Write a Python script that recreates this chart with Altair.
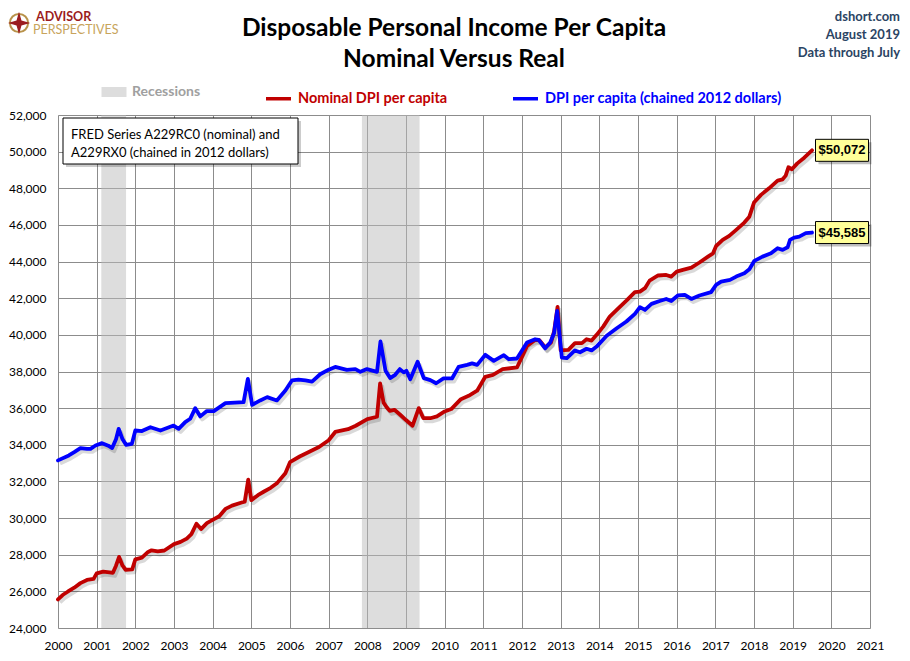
import altair as alt
import pandas as pd

# ---------------- data ----------------
nominal_t = [2000.00, 2000.12, 2000.25, 2000.42, 2000.58, 2000.75, 2000.92, 2001.00, 2001.17, 2001.33,
             2001.42, 2001.50, 2001.58, 2001.67, 2001.75, 2001.92, 2002.00, 2002.17, 2002.33, 2002.42,
             2002.58, 2002.75, 2003.00, 2003.17, 2003.33, 2003.45, 2003.58, 2003.70, 2003.85, 2004.00,
             2004.17, 2004.33, 2004.50, 2004.75, 2004.83, 2004.92, 2005.00, 2005.17, 2005.33, 2005.50,
             2005.67, 2005.88, 2006.00, 2006.25, 2006.50, 2006.75, 2007.00, 2007.17, 2007.50, 2007.70,
             2008.00, 2008.25, 2008.33, 2008.42, 2008.50, 2008.58, 2008.70, 2008.85, 2009.00, 2009.17,
             2009.33, 2009.45, 2009.63, 2009.80, 2010.00, 2010.17, 2010.42, 2010.62, 2010.84, 2011.05,
             2011.25, 2011.50, 2011.87, 2012.00, 2012.13, 2012.33, 2012.45, 2012.60, 2012.75, 2012.83,
             2012.92, 2013.00, 2013.20, 2013.37, 2013.55, 2013.67, 2013.80, 2013.93, 2014.10, 2014.27,
             2014.49, 2014.70, 2014.92, 2015.05, 2015.18, 2015.30, 2015.52, 2015.73, 2015.86, 2016.00,
             2016.16, 2016.38, 2016.59, 2016.81, 2016.94, 2017.02, 2017.19, 2017.36, 2017.54, 2017.75,
             2017.88, 2018.00, 2018.18, 2018.39, 2018.61, 2018.74, 2018.82, 2018.89, 2018.98, 2019.12,
             2019.30, 2019.50]
nominal_v = [25560, 25800, 25980, 26200, 26450, 26620, 26680, 26980, 27080, 27040,
             27010, 27400, 27880, 27400, 27180, 27200, 27750, 27840, 28150, 28240,
             28180, 28230, 28580, 28700, 28880, 29120, 29690, 29400, 29720, 29900,
             30100, 30500, 30680, 30850, 30900, 32100, 30980, 31250, 31450, 31650,
             31920, 32450, 33050, 33360, 33620, 33880, 34250, 34700, 34850, 35040,
             35400, 35530, 37350, 36300, 36050, 35850, 35910, 35640, 35350, 35040,
             36000, 35450, 35450, 35550, 35820, 35950, 36490, 36670, 36950, 37710,
             37820, 38130, 38220, 38800, 39400, 39710, 39710, 39310, 39580, 40200,
             41530, 39150, 39180, 39550, 39550, 39760, 39690, 40000, 40450, 41000,
             41450, 41870, 42330, 42360, 42550, 42960, 43240, 43270, 43180, 43450,
             43550, 43670, 43950, 44270, 44450, 44850, 45180, 45400, 45730, 46130,
             46450, 47220, 47640, 48000, 48420, 48490, 48690, 49150, 49040, 49360,
             49670, 50072]

real_t = [2000.00, 2000.28, 2000.42, 2000.58, 2000.75, 2000.84, 2000.97, 2001.14, 2001.30, 2001.40,
          2001.50, 2001.57, 2001.67, 2001.76, 2001.91, 2002.00, 2002.17, 2002.39, 2002.65, 2002.99,
          2003.12, 2003.29, 2003.42, 2003.55, 2003.68, 2003.85, 2004.03, 2004.33, 2004.46, 2004.80,
          2004.91, 2005.02, 2005.23, 2005.41, 2005.66, 2005.88, 2006.05, 2006.22, 2006.40, 2006.57,
          2006.78, 2007.00, 2007.17, 2007.47, 2007.69, 2007.82, 2007.99, 2008.25, 2008.34, 2008.47,
          2008.59, 2008.72, 2008.84, 2008.94, 2009.01, 2009.11, 2009.30, 2009.46, 2009.63, 2009.78,
          2009.97, 2010.19, 2010.36, 2010.58, 2010.71, 2010.84, 2011.05, 2011.27, 2011.53, 2011.66,
          2011.87, 2012.13, 2012.34, 2012.43, 2012.60, 2012.73, 2012.83, 2012.91, 2013.03, 2013.16,
          2013.37, 2013.50, 2013.67, 2013.80, 2013.93, 2014.19, 2014.45, 2014.70, 2014.92, 2015.05,
          2015.18, 2015.35, 2015.56, 2015.73, 2015.86, 2016.03, 2016.21, 2016.38, 2016.59, 2016.89,
          2017.02, 2017.15, 2017.38, 2017.54, 2017.75, 2017.88, 2018.01, 2018.22, 2018.44, 2018.61,
          2018.74, 2018.87, 2018.93, 2019.04, 2019.17, 2019.34, 2019.50]
real_v = [33150, 33420, 33600, 33820, 33780, 33780, 33960, 34090, 33950, 33820,
          34300, 34870, 34300, 34000, 34050, 34780, 34750, 34960, 34780, 35050,
          34870, 35240, 35420, 36000, 35550, 35840, 35840, 36270, 36290, 36330,
          37600, 36180, 36420, 36600, 36420, 36960, 37510, 37560, 37510, 37450,
          37850, 38100, 38250, 38090, 38130, 37980, 38130, 37980, 39640, 38040,
          37640, 37820, 38130, 37950, 38040, 37580, 38530, 37640, 37530, 37360,
          37620, 37620, 38250, 38360, 38440, 38360, 38910, 38580, 38890, 38670,
          38710, 39580, 39760, 39730, 39270, 39580, 40100, 41310, 38760, 38730,
          39150, 39050, 39240, 39150, 39360, 39950, 40360, 40730, 41150, 41510,
          41360, 41690, 41850, 41960, 41850, 42150, 42180, 41960, 42150, 42330,
          42730, 42910, 43000, 43180, 43360, 43580, 44040, 44270, 44450, 44730,
          44640, 44780, 45180, 45310, 45360, 45550, 45585]

recession_start = [2001.12, 2007.86]
recession_end = [2001.76, 2009.35]
recession_label = ["Recessions", "Recessions"]

year_ticks = list(range(2000, 2022))
value_ticks = list(range(24000, 52001, 2000))

series_names = ["Nominal DPI per capita", "DPI per capita (chained 2012 dollars)"]
series_colors = ["#C00000", "#0000FF"]

title_lines = ["Disposable Personal Income Per Capita", "Nominal Versus Real"]
source_lines = ["dshort.com", "August 2019", "Data through July"]
note_lines = ["FRED Series A229RC0 (nominal) and", "A229RX0 (chained in 2012 dollars)"]
logo_top = "ADVISOR"
logo_bottom = "PERSPECTIVES"

# ---------------- tables ----------------
lines_df = pd.DataFrame({
    "t": nominal_t + real_t,
    "v": nominal_v + real_v,
    "series": [series_names[0]] * len(nominal_t) + [series_names[1]] * len(real_t),
})
last_df = pd.DataFrame({
    "t": [nominal_t[-1], real_t[-1]],
    "v": [nominal_v[-1], real_v[-1]],
    "series": series_names,
})
last_df["label"] = last_df["v"].map(lambda v: f"${v:,}")
rec_df = pd.DataFrame({"start": recession_start, "end": recession_end, "label": recession_label})
one = pd.DataFrame({"k": [0]})

# ---------------- scales / axes ----------------
W, H = 812, 513
FONT = "Lato"
GRID = "#8C8C8C"

x_scale = alt.Scale(domain=[2000, 2021], nice=False, zero=False)
y_scale = alt.Scale(domain=[24000, 52000], nice=False, zero=False)
x_axis = alt.Axis(values=year_ticks, format="d", title=None, grid=True, gridColor=GRID,
                  gridWidth=1, gridOpacity=1, domain=False, ticks=False, tickSize=0,
                  labelFont=FONT, labelFontSize=12, labelColor="#000", labelPadding=12,
                  labelFlush=False, labelOverlap=False)
y_axis = alt.Axis(values=value_ticks, format=",d", title=None, grid=True, gridColor=GRID,
                  gridWidth=1, gridOpacity=1, domain=False, ticks=False, tickSize=0,
                  labelFont=FONT, labelFontSize=12, labelColor="#000", labelPadding=12,
                  labelOverlap=False)
X = alt.X("t:Q", scale=x_scale, axis=x_axis)
Y = alt.Y("v:Q", scale=y_scale, axis=y_axis)

# ---------------- layers ----------------
rec = alt.Chart(rec_df).mark_rect(opacity=0.5).encode(
    x=alt.X("start:Q", scale=x_scale, axis=x_axis),
    x2="end:Q",
    fill=alt.Fill("label:N", scale=alt.Scale(domain=["Recessions"], range=["#BBBBBB"]),
                  legend=alt.Legend(orient="none", legendX=49, legendY=-30, title=None,
                                    direction="horizontal",
                                    symbolType="M-2.5,-1L2.5,-1L2.5,1L-2.5,1Z",
                                    symbolSize=100, symbolOpacity=0.5, symbolStrokeWidth=0,
                                    labelOffset=11, labelFont=FONT, labelFontSize=14,
                                    labelFontWeight="bold", labelColor="#A0A0A0")),
)

shadow = alt.Chart(lines_df).mark_line(strokeWidth=4, color="#000000", strokeOpacity=0.15,
                                       xOffset=2, yOffset=3, strokeJoin="round").encode(
    x=X, y=Y, detail="series:N")

lines = alt.Chart(lines_df).mark_line(strokeWidth=3.8, strokeJoin="round", strokeCap="round").encode(
    x=X, y=Y,
    color=alt.Color("series:N", scale=alt.Scale(domain=series_names, range=series_colors),
                    legend=alt.Legend(orient="none", legendX=206, legendY=-31, title=None,
                                      direction="horizontal", symbolType="stroke",
                                      symbolSize=625, symbolStrokeWidth=3.5,
                                      columnPadding=58, labelOffset=5, labelFont=FONT,
                                      labelFontSize=14.5, labelFontWeight="bold", labelLimit=500,
                                      labelColor=alt.ExprRef(
                                          expr="datum.value == 'Nominal DPI per capita' ? '#C00000' : '#0000FF'"))),
)

BOX = "M0.35,-1.1L5.65,-1.1L5.65,1.1L0.35,1.1Z"
BOX_SH = "M0.65,-0.8L5.95,-0.8L5.95,1.4L0.65,1.4Z"
box_shadow = alt.Chart(last_df).mark_point(shape=BOX_SH, size=400, filled=True, color="#000000",
                                           opacity=0.25, strokeWidth=0).encode(x=X, y=Y)
box = alt.Chart(last_df).mark_point(shape=BOX, size=400, filled=True, fill="#FFFF99",
                                    stroke="#000000", strokeWidth=1, opacity=1).encode(x=X, y=Y)
box_text = alt.Chart(last_df).mark_text(dx=30, align="center", baseline="middle",
                                        font="Liberation Sans", fontWeight="bold", fontSize=13,
                                        color="#000000").encode(x=X, y=Y, text="label:N")

# note box (upper left)
note_shadow = alt.Chart(one).mark_rect(color="#000000", opacity=0.2).encode(
    x=alt.value(8), x2=alt.value(243), y=alt.value(6), y2=alt.value(52))
note_box = alt.Chart(one).mark_rect(fill="#FFFFFF", stroke="#000000", strokeWidth=1).encode(
    x=alt.value(5), x2=alt.value(240), y=alt.value(3), y2=alt.value(49))
note_text = alt.Chart(one).mark_text(align="left", baseline="middle", font=FONT, fontSize=13,
                                     lineHeight=18, color="#000000").encode(
    x=alt.value(13), y=alt.value(20), text=alt.value(note_lines))

# header: title, source, logo
title_text = alt.Chart(one).mark_text(align="center", baseline="middle", font=FONT, fontSize=24.5,
                                      fontWeight="bold", lineHeight=31, color="#000000").encode(
    x=alt.value(396), y=alt.value(-86), text=alt.value(title_lines))
source_text = alt.Chart(one).mark_text(align="right", baseline="middle", font=FONT, fontSize=13,
                                       fontWeight="bold", lineHeight=18, color="#2B4463").encode(
    x=alt.value(842), y=alt.value(-98.5), text=alt.value(source_lines))
logo_ring = alt.Chart(one).mark_point(shape="circle", size=330, filled=False, stroke="#B8924A",
                                      strokeWidth=2, opacity=1).encode(x=alt.value(-39), y=alt.value(-92))
logo_star = alt.Chart(one).mark_point(
    shape="M0,-1L0.22,-0.22L1,0L0.22,0.22L0,1L-0.22,0.22L-1,0L-0.22,-0.22Z",
    size=500, filled=True, color="#9B1C20", opacity=1).encode(x=alt.value(-39), y=alt.value(-92))
logo_a = alt.Chart(one).mark_text(align="left", baseline="middle", font=FONT, fontSize=12.5,
                                  fontWeight="bold", color="#9B1C20").encode(
    x=alt.value(-22), y=alt.value(-98.5), text=alt.value(logo_top))
logo_b = alt.Chart(one).mark_text(align="left", baseline="middle", font=FONT, fontSize=12.5,
                                  color="#C8A45C").encode(
    x=alt.value(-25), y=alt.value(-85.5), text=alt.value(logo_bottom))

chart = alt.layer(
    rec, shadow, lines, box_shadow, box, box_text,
    note_shadow, note_box, note_text,
    title_text, source_text, logo_ring, logo_star, logo_a, logo_b,
).properties(
    width=W, height=H,
    padding={"left": 50, "top": 107, "right": 32, "bottom": 26},
    autosize=alt.AutoSizeParams(type="none"),
).configure_view(stroke=GRID, strokeWidth=1).configure(background="#FFFFFF")

chart.save("out.html", embed_options={"renderer": "svg", "actions": False})
